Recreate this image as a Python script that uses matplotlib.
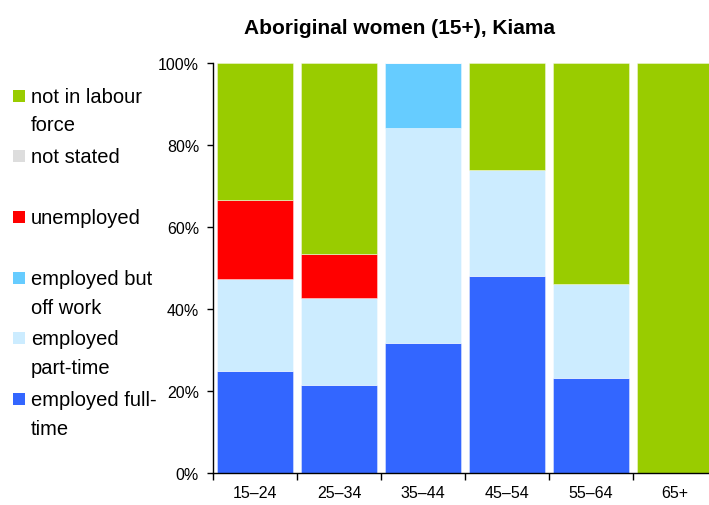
import matplotlib
matplotlib.use("Agg")
import matplotlib.pyplot as plt
import numpy as np
from matplotlib.patches import Rectangle

plt.rcParams['font.family'] = ['Liberation Sans', 'DejaVu Sans']

categories = ["15–24", "25–34", "35–44", "45–54", "55–64", "65+"]
full_time = [25.0, 21.4, 31.6, 48.1, 23.1, 0.0]
part_time = [22.2, 21.4, 52.6, 25.9, 23.1, 0.0]
off_work = [0.0, 0.0, 15.8, 0.0, 0.0, 0.0]
unemployed = [19.4, 10.7, 0.0, 0.0, 0.0, 0.0]
not_stated = [0.0, 0.0, 0.0, 0.0, 0.0, 0.0]
not_in_lf = [33.4, 46.5, 0.0, 26.0, 53.8, 100.0]

series = [
    ("employed full-\ntime", full_time, "#3366FF"),
    ("employed\npart-time", part_time, "#CCECFF"),
    ("employed but\noff work", off_work, "#66CCFF"),
    ("unemployed", unemployed, "#FF0000"),
    ("not stated", not_stated, "#DDDDDD"),
    ("not in labour\nforce", not_in_lf, "#99CC00"),
]

W, H = 709, 506
fig = plt.figure(figsize=(W / 100, H / 100), dpi=100)
ax = fig.add_axes([213 / W, 1 - 474 / H, 504 / W, 410 / H])

x = np.arange(len(categories))
bottom = np.zeros(len(categories))
for name, vals, col in series:
    v = np.array(vals)
    ax.bar(x, v, bottom=bottom, width=0.91, color=col,
           edgecolor=(1, 1, 1, 0.45), linewidth=0.6)
    bottom += v

ax.set_xlim(-0.5, len(categories) - 0.5)
ax.set_ylim(0, 100)
ax.set_yticks(np.arange(0, 101, 20))
ax.set_yticklabels([f"{v}%" for v in range(0, 101, 20)], fontsize=11.5)
ax.set_xticks(x)
ax.set_xticklabels(categories, fontsize=11.5)
ax.set_xticks(np.arange(-0.5, len(categories), 1), minor=True)
ax.tick_params(axis='x', which='major', length=0, pad=9)
ax.tick_params(axis='x', which='minor', length=5, width=1, direction='out')
ax.tick_params(axis='y', which='major', length=4, width=1, direction='out', pad=6)
for s in ['top', 'right']:
    ax.spines[s].set_visible(False)
for s in ['left', 'bottom']:
    ax.spines[s].set_linewidth(1)

fig.text(399 / W, 1 - 29 / H, "Aboriginal women (15+), Kiama",
         ha='center', va='center', fontsize=15, fontweight='bold')

# legend (manual)
marker_y = [96.7, 157, 218, 279, 339, 400]
for (name, vals, col), my in zip(reversed(series), marker_y):
    fig.patches.append(Rectangle((13 / W, 1 - (my + 6) / H), 12 / W, 12 / H,
                                 transform=fig.transFigure, facecolor=col,
                                 edgecolor='none'))
    fig.text(31 / W, 1 - (my - 9) / H, name, ha='left', va='top',
             fontsize=14.5, linespacing=1.65)

fig.savefig("out.png", dpi=100)
